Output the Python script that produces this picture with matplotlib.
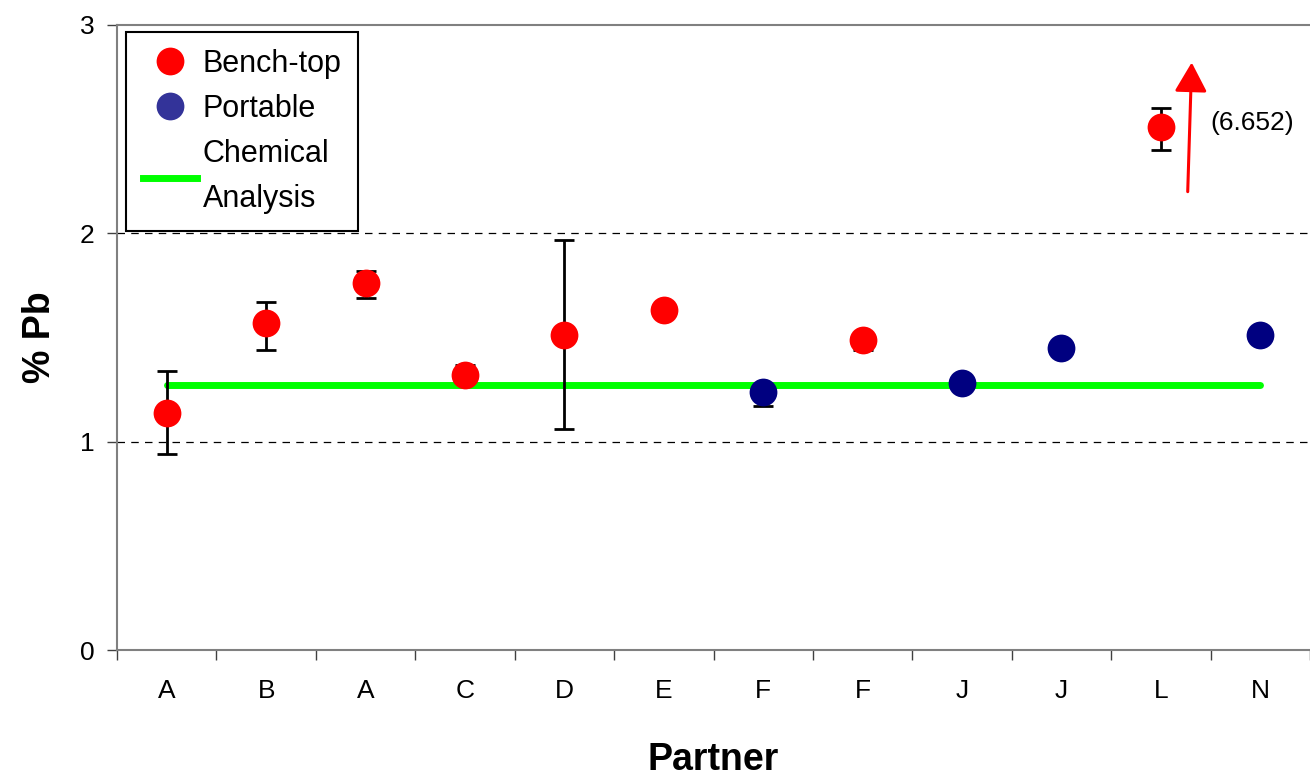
import numpy as np
import matplotlib
matplotlib.use('Agg')
import matplotlib.pyplot as plt

plt.rcParams['font.family'] = ['Liberation Sans', 'DejaVu Sans']

# data
partners = ['A', 'B', 'A', 'C', 'D', 'E', 'F', 'F', 'J', 'J', 'L', 'N']

bench_idx = [0, 1, 2, 3, 4, 5, 7, 10]
bench_values = [1.14, 1.57, 1.76, 1.32, 1.51, 1.63, 1.49, 2.51]
bench_err_low = [0.20, 0.13, 0.07, 0.0, 0.45, 0.03, 0.05, 0.11]
bench_err_high = [0.20, 0.10, 0.06, 0.05, 0.46, 0.0, 0.0, 0.09]

portable_idx = [6, 8, 9, 11]
portable_values = [1.24, 1.28, 1.45, 1.51]
portable_err_low = [0.07, 0.0, 0.0, 0.0]
portable_err_high = [0.0, 0.0, 0.0, 0.0]

chemical_value = 1.27
outlier_label = '(6.652)'

fig = plt.figure(figsize=(13.1, 7.79), dpi=100)
ax = fig.add_axes([117 / 1310, 1 - 650 / 779, 1 - 117 / 1310, (650 - 25) / 779])

x = np.arange(len(partners))

# chemical analysis reference line
ax.plot([x[0], x[-1]], [chemical_value, chemical_value], color='#00FF00', lw=5,
        solid_capstyle='round', zorder=2)

ax.errorbar(bench_idx, bench_values, yerr=[bench_err_low, bench_err_high], fmt='none',
            ecolor='black', elinewidth=2, capsize=7, capthick=2, zorder=3)
ax.errorbar(portable_idx, portable_values, yerr=[portable_err_low, portable_err_high], fmt='none',
            ecolor='black', elinewidth=2, capsize=7, capthick=2, zorder=3)

ax.plot(bench_idx, bench_values, 'o', color='#FF0000', ms=20, mec='none', zorder=4)
ax.plot(portable_idx, portable_values, 'o', color='#000080', ms=20, mec='none', zorder=4)

# arrow for the off-scale value
ax.annotate('', xy=(10.31, 2.82), xytext=(10.27, 2.20),
            arrowprops=dict(arrowstyle='-|>,head_width=0.5,head_length=0.9', color='red',
                            lw=2.2, mutation_scale=20, shrinkA=0, shrinkB=0), zorder=5)
ax.text(10.50, 2.53, outlier_label, fontsize=19, va='center', ha='left')

ax.set_xlim(-0.5, len(partners) - 0.5)
ax.set_ylim(0, 3)
ax.set_yticks([0, 1, 2, 3])
ax.set_xticks(x)
ax.set_xticklabels(partners)
ax.set_xticks(np.arange(-0.5, len(partners), 1), minor=True)
ax.tick_params(axis='x', which='major', length=0, labelsize=19, pad=21)
ax.tick_params(axis='x', which='minor', length=7, width=1, color='#404040', direction='out')
ax.tick_params(axis='y', length=7, width=1, color='#404040', labelsize=19, pad=9)

for y in [1, 2]:
    ax.axhline(y, color='black', lw=0.9, ls=(0, (6, 5)), zorder=1)

for side in ['left', 'bottom', 'top']:
    ax.spines[side].set_color('#808080')
    ax.spines[side].set_linewidth(1.5)
ax.spines['right'].set_visible(False)

ax.set_ylabel('% Pb', fontsize=27, fontweight='bold', labelpad=16)
ax.set_xlabel('Partner', fontsize=27, fontweight='bold', labelpad=28)

# legend built from proxy handles
h_bench = plt.Line2D([], [], ls='none', marker='o', ms=20, color='#FF0000', mec='none')
h_port = plt.Line2D([], [], ls='none', marker='o', ms=20, color='#333399', mec='none')
h_chem = plt.Line2D([], [], color='#00FF00', lw=5)
leg = ax.legend([h_bench, h_port, h_chem], ['Bench-top', 'Portable', 'Chemical\nAnalysis'],
                loc='upper left', bbox_to_anchor=(126 / 1310, 1 - 32 / 779),
                bbox_transform=fig.transFigure, fontsize=22, frameon=True, fancybox=False,
                framealpha=1, edgecolor='black', borderpad=0.55, handlelength=1.76,
                handletextpad=0.2, labelspacing=0.5, borderaxespad=0)
leg.get_frame().set_linewidth(1.5)
leg.get_texts()[2].set_linespacing(1.65)

fig.savefig('out.png', dpi=100)
